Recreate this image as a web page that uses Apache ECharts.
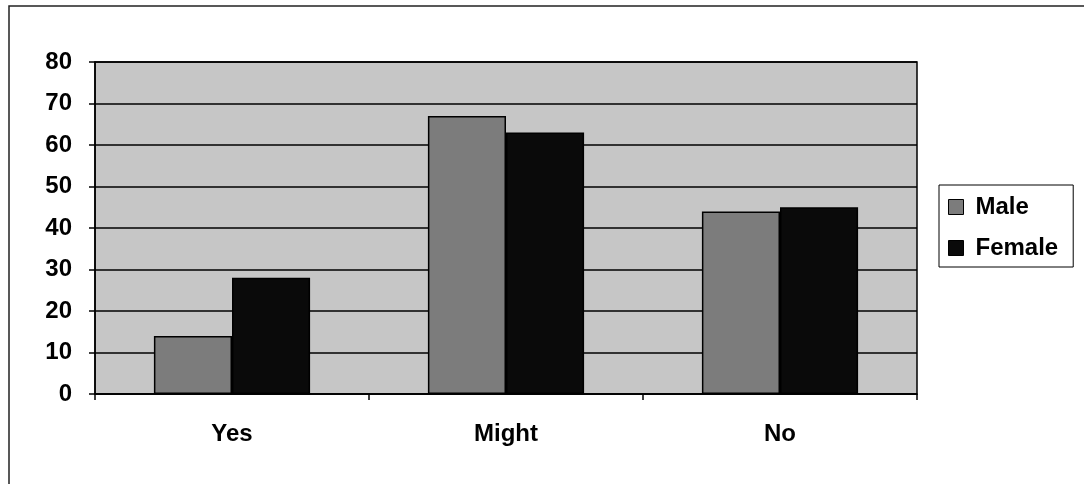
<!DOCTYPE html>
<html>
<head>
<meta charset="utf-8">
<script src="https://cdn.jsdelivr.net/npm/echarts@6/dist/echarts.min.js"></script>
<style>
  html, body { margin: 0; padding: 0; background: #fff; }
  #chart { width: 1084px; height: 484px; }
</style>
</head>
<body>
<div id="chart"></div>
<script>
// Survey answers by gender
const categories = ['Yes', 'Might', 'No'];
const maleValues = [14, 67, 44];
const femaleValues = [28, 63, 45];
const yTicks = { min: 0, max: 80, interval: 10 };

const FONT = '"Liberation Sans", Arial, sans-serif';
const chart = echarts.init(document.getElementById('chart'));

chart.setOption({
  animation: false,
  backgroundColor: '#ffffff',
  graphic: [
    // outer chart frame
    { type: 'polyline', silent: true, z: 0,
      shape: { points: [[9, 484], [9, 6], [1084, 6]] },
      style: { stroke: '#222', lineWidth: 1.5, fill: null } }
  ],
  grid: {
    left: 95, right: 167, top: 62, bottom: 90,
    show: true,
    backgroundColor: '#c6c6c6',
    borderColor: '#000',
    borderWidth: 1.5
  },
  legend: {
    orient: 'vertical',
    left: 939, top: 185,
    data: ['Male', 'Female'],
    itemWidth: 15, itemHeight: 15,
    itemGap: 17,
    padding: [10, 15, 7, 9],
    backgroundColor: '#fff',
    borderColor: '#000',
    borderWidth: 1,
    icon: 'rect',
    itemStyle: { borderColor: '#000', borderWidth: 1 },
    textStyle: {
      fontFamily: FONT, fontWeight: 'bold', fontSize: 24, lineHeight: 24,
      color: '#000', padding: [0, 0, 0, 7]
    }
  },
  xAxis: {
    type: 'category',
    data: categories,
    axisLine: { lineStyle: { color: '#000', width: 1.5 } },
    axisTick: { show: true, length: 6, lineStyle: { color: '#000', width: 1.5 } },
    axisLabel: { fontFamily: FONT, fontWeight: 'bold', fontSize: 24, color: '#000', margin: 28 },
    splitLine: { show: false }
  },
  yAxis: {
    type: 'value',
    min: yTicks.min, max: yTicks.max, interval: yTicks.interval,
    axisLine: { show: true, lineStyle: { color: '#000', width: 1.5 } },
    axisTick: { show: true, length: 6, lineStyle: { color: '#000', width: 1.5 } },
    axisLabel: { fontFamily: FONT, fontWeight: 'bold', fontSize: 24, color: '#000', margin: 23 },
    splitLine: { show: true, lineStyle: { color: '#000', width: 1.5 } }
  },
  series: [
    {
      name: 'Male', type: 'bar', data: maleValues,
      barGap: '0%', barCategoryGap: '43%',
      itemStyle: { color: '#7c7c7c', borderColor: '#000', borderWidth: 1.5 }
    },
    {
      name: 'Female', type: 'bar', data: femaleValues,
      itemStyle: { color: '#0a0a0a', borderColor: '#000', borderWidth: 1.5 }
    }
  ]
});
</script>
</body>
</html>
